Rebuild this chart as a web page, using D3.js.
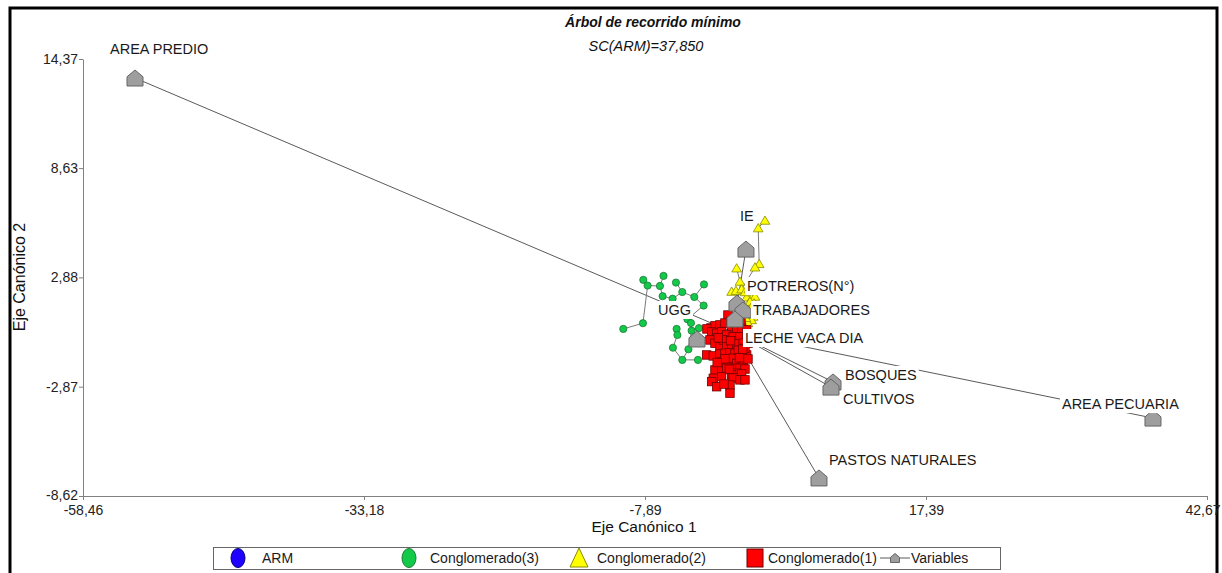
<!DOCTYPE html>
<html>
<head>
<meta charset="utf-8">
<script src="https://cdn.jsdelivr.net/npm/d3@7"></script>
<style>
  html, body { margin: 0; padding: 0; background: #fff; }
  svg { display: block; font-family: "Liberation Sans", Arial, sans-serif; }
</style>
</head>
<body>
<svg id="chart" width="1222" height="573"></svg>
<script>
// ---- axis ticks ----
const xTicks = [-58.46, -33.18, -7.89, 17.39, 42.67];
const xTickLabels = ["-58,46", "-33,18", "-7,89", "17,39", "42,67"];
const yTicks = [-8.62, -2.87, 2.88, 8.63, 14.37];
const yTickLabels = ["-8,62", "-2,87", "2,88", "8,63", "14,37"];

// ---- variables (canonical coordinates) ----
const variableNames = ["AREA PREDIO", "IE", "POTREROS(N°)", "TRABAJADORES", "LECHE VACA DIA",
                       "UGG", "BOSQUES", "CULTIVOS", "AREA PECUARIA", "PASTOS NATURALES"];
const variableX = [-53.78, 1.19, 0.38, 0.92, 0.20, -3.22, 9.02, 8.84, 37.81, 7.76];
const variableY = [13.37, 4.37, 1.53, 1.17, 0.69, -0.36, -2.62, -2.89, -4.52, -7.67];

// ---- observations by cluster (Eje 1, Eje 2) ----
const cluster3 = [
  [-8.05, 2.75], [-7.66, 2.45], [-6.23, 2.96], [-6.55, 2.43], [-5.11, 2.61],
  [-6.31, 1.89], [-5.41, 1.76], [-4.54, 2.11], [-3.46, 1.85], [-2.59, 2.51],
  [-2.62, 1.40], [-8.08, 0.47], [-9.85, 0.17], [-4.08, 0.68], [-3.76, 0.48],
  [-5.05, 0.17], [-4.98, -0.15], [-3.70, 0.08], [-5.38, -0.82], [-3.99, -0.90],
  [-4.54, -1.46], [-3.13, -1.46], [-3.04, 0.21]
];
const cluster2 = [
  [2.90, 5.87], [2.29, 5.47], [2.38, 3.59], [2.00, 3.41], [0.35, 3.36],
  [0.65, 2.66], [-0.10, 2.13], [0.29, 2.18], [0.80, 2.26], [1.25, 1.84],
  [1.70, 1.78], [2.00, 1.87], [1.55, 1.60], [1.91, 1.52], [1.70, 1.34],
  [2.00, 1.34], [1.70, 0.99], [1.84, 0.82], [1.70, 0.64], [1.37, 0.48],
  [1.10, 2.11], [1.37, 1.17], [1.19, 0.75], [2.09, 1.06], [1.46, 2.27]
];
const cluster1 = [
  [-0.43, 0.90], [-1.96, 0.22], [-1.60, 0.33], [-1.15, 0.38], [-0.70, 0.48], [-0.16, 0.54],
  [0.29, 0.64], [0.74, 0.48], [-0.10, 0.29], [0.35, 0.21], [0.80, 0.21], [1.25, 0.12],
  [-2.32, 0.17], [-1.90, 0.01], [-1.45, -0.06], [-1.00, 0.03], [-0.55, -0.15], [0.04, -0.24],
  [0.65, -0.24], [1.25, -0.25], [-2.05, -0.41], [-1.60, -0.58], [-1.15, -0.76], [-0.85, -0.41],
  [-0.55, -0.76], [-0.10, -0.85], [0.35, -0.62], [0.94, -0.58], [1.39, -0.58], [-2.35, -1.20],
  [-1.75, -1.25], [-1.15, -1.15], [-0.70, -1.11], [-0.25, -1.08], [0.20, -1.11], [0.80, -1.08],
  [1.25, -1.20], [1.10, -0.85], [-1.00, -1.55], [-0.40, -1.64], [0.04, -1.37], [0.35, -1.64],
  [0.94, -1.67], [1.37, -1.41], [-1.60, -1.99], [-1.00, -1.99], [-0.55, -1.90], [0.20, -1.90],
  [0.65, -1.90], [1.10, -1.94], [0.35, -2.16], [0.80, -2.20], [-1.75, -2.43], [-1.00, -2.34],
  [-0.10, -2.25], [0.04, -2.41], [0.65, -2.51], [1.10, -2.51], [-1.90, -2.60], [-1.45, -2.87],
  [-0.25, -2.78], [-0.79, -2.73], [-0.25, -3.21], [-1.30, -0.30], [-0.20, -0.45], [0.50, -0.95],
  [-0.70, -1.40], [0.60, -1.35], [-1.40, -1.60], [-0.30, -1.95], [0.90, -0.90]
];

// known branches of the spanning tree (index pairs inside each cluster)
const treeEdges3 = [[0,1],[1,3],[2,3],[3,5],[5,6],[6,7],[4,7],[7,8],[8,9],[8,10],[1,11],[11,12],
                    [13,14],[15,16],[16,18],[18,20],[20,21],[17,19],[19,20],[14,17],[17,22]];
const treeEdges2 = [[0,1],[1,2],[2,3],[3,8],[4,5]];

// ---- layout ----
const W = 1222, H = 573;
const svg = d3.select("#chart");
svg.append("rect").attr("width", W).attr("height", H).attr("fill", "#fff");

const x = d3.scaleLinear().domain([xTicks[0], xTicks[xTicks.length - 1]]).range([83, 1207]);
const y = d3.scaleLinear().domain([yTicks[0], yTicks[yTicks.length - 1]]).range([496, 59]);

// outer frame
svg.append("rect").attr("x", 10).attr("y", 8).attr("width", 1207).attr("height", 575)
  .attr("fill", "none").attr("stroke", "#000").attr("stroke-width", 3);

// axes
const axisColor = "#808080";
const gx = svg.append("g").attr("transform", `translate(0,${y.range()[0]})`)
  .call(d3.axisBottom(x).tickValues(xTicks).tickSize(4).tickSizeOuter(0)
    .tickFormat((d, i) => xTickLabels[i]));
const gy = svg.append("g").attr("transform", `translate(${x.range()[0]},0)`)
  .call(d3.axisLeft(y).tickValues(yTicks).tickSize(4).tickSizeOuter(0)
    .tickFormat((d, i) => yTickLabels[i]));
[gx, gy].forEach(g => {
  g.select(".domain").attr("stroke", axisColor);
  g.selectAll(".tick line").attr("stroke", axisColor);
  g.selectAll(".tick text").attr("fill", "#222").style("font-size", "14px")
    .style("font-family", "'Liberation Sans', Arial, sans-serif");
});
gx.selectAll(".tick text").attr("dy", "0.9em").attr("y", 6);
// the last label sits against the right frame: keep it inside the page
gx.selectAll(".tick text").filter((d, i) => i === xTicks.length - 1)
  .attr("text-anchor", "end").attr("x", 13);
gy.selectAll(".tick text").attr("x", -5);
gy.selectAll(".tick text").filter((d, i) => i === 0).attr("dy", "0.25em");

// titles
svg.append("text").attr("x", 653).attr("y", 27).attr("text-anchor", "middle")
  .style("font-size", "14px").style("font-weight", "bold").style("font-style", "italic")
  .attr("fill", "#111").text("Árbol de recorrido mínimo");
svg.append("text").attr("x", 646).attr("y", 51).attr("text-anchor", "middle")
  .style("font-size", "14.5px").style("font-style", "italic")
  .attr("fill", "#111").text("SC(ARM)=37,850");
svg.append("text").attr("x", 644).attr("y", 532).attr("text-anchor", "middle")
  .style("font-size", "15.5px").attr("fill", "#111").text("Eje Canónico 1");
svg.append("text").attr("transform", "translate(25,277) rotate(-90)").attr("text-anchor", "middle")
  .style("font-size", "16px").attr("fill", "#111").text("Eje Canónico 2");

// ---- observations and spanning tree ----
const pts = [];
cluster3.forEach(p => pts.push({ v: p, g: 3 }));
cluster2.forEach(p => pts.push({ v: p, g: 2 }));
cluster1.forEach(p => pts.push({ v: p, g: 1 }));
pts.forEach(p => { p.px = x(p.v[0]); p.py = y(p.v[1]); });

const off2 = cluster3.length;
const parent = pts.map((_, i) => i);
const find = i => (parent[i] === i ? i : (parent[i] = find(parent[i])));
const tree = [];
function link(a, b) {
  const ra = find(a), rb = find(b);
  if (ra === rb) return;
  parent[ra] = rb;
  tree.push([a, b]);
}
treeEdges3.forEach(([a, b]) => link(a, b));
treeEdges2.forEach(([a, b]) => link(a + off2, b + off2));
const cand = [];
for (let i = 0; i < pts.length; i++)
  for (let j = i + 1; j < pts.length; j++)
    cand.push([i, j, Math.hypot(pts[i].px - pts[j].px, pts[i].py - pts[j].py)]);
cand.sort((a, b) => a[2] - b[2]);
cand.forEach(([a, b]) => link(a, b));

// variable vectors from the origin
const vars = variableNames.map((n, i) => ({ name: n, vx: variableX[i], vy: variableY[i] }));
svg.append("g").selectAll("line").data(vars).join("line")
  .attr("x1", x(0)).attr("y1", y(0))
  .attr("x2", d => x(d.vx)).attr("y2", d => y(d.vy))
  .attr("stroke", "#5a5a5a").attr("stroke-width", 1);

svg.append("g").selectAll("line").data(tree).join("line")
  .attr("x1", d => pts[d[0]].px).attr("y1", d => pts[d[0]].py)
  .attr("x2", d => pts[d[1]].px).attr("y2", d => pts[d[1]].py)
  .attr("stroke", "#7a7a7a").attr("stroke-width", 1);

const tri = s => `M0,${-s}L${s * 1.05},${s * 0.8}L${-s * 1.05},${s * 0.8}Z`;
const house = (w, h) => `M0,${-h}L${w},${-h * 0.15}L${w},${h}L${-w},${h}L${-w},${-h * 0.15}Z`;

svg.append("g").selectAll("circle").data(pts.filter(p => p.g === 3)).join("circle")
  .attr("cx", d => d.px).attr("cy", d => d.py).attr("r", 3.6)
  .attr("fill", "#12c94a").attr("stroke", "#1e7a35").attr("stroke-width", 0.8);
svg.append("g").selectAll("path").data(pts.filter(p => p.g === 2)).join("path")
  .attr("transform", d => `translate(${d.px},${d.py})`).attr("d", tri(4.6))
  .attr("fill", "#ffff00").attr("stroke", "#8a8a00").attr("stroke-width", 0.8);
svg.append("g").selectAll("rect").data(pts.filter(p => p.g === 1)).join("rect")
  .attr("x", d => d.px - 4.25).attr("y", d => d.py - 4.25).attr("width", 8.5).attr("height", 8.5)
  .attr("fill", "#ff0000").attr("stroke", "#6e0000").attr("stroke-width", 0.8);

// variable markers
svg.append("g").selectAll("path").data(vars).join("path")
  .attr("transform", d => `translate(${x(d.vx)},${y(d.vy)})`).attr("d", house(8, 8))
  .attr("fill", "#9e9e9e").attr("stroke", "#666").attr("stroke-width", 1);

// variable labels (pixel offsets from each marker), on a white backing
const labelOffset = {
  "AREA PREDIO": [-25, -24], "IE": [-6, -28], "POTREROS(N°)": [10, -12],
  "TRABAJADORES": [10, 5], "LECHE VACA DIA": [10, 24], "UGG": [-39, -24],
  "BOSQUES": [12, -2], "CULTIVOS": [12, 17], "AREA PECUARIA": [-91, -9],
  "PASTOS NATURALES": [10, -13]
};
const lg = svg.append("g");
vars.forEach(d => {
  const [dx, dy] = labelOffset[d.name];
  const g = lg.append("g");
  const t = g.append("text").attr("x", x(d.vx) + dx).attr("y", y(d.vy) + dy)
    .style("font-size", "14.5px").attr("fill", "#1a1a1a").text(d.name);
  const bb = t.node().getBBox();
  g.insert("rect", "text").attr("x", bb.x - 2).attr("y", bb.y - 1)
    .attr("width", bb.width + 4).attr("height", bb.height + 2).attr("fill", "#fff");
});

// ---- legend ----
const legY = 558;
svg.append("rect").attr("x", 213.5).attr("y", 547.5).attr("width", 787).attr("height", 22)
  .attr("fill", "#fff").attr("stroke", "#666").attr("stroke-width", 1);
const leg = svg.append("g").style("font-size", "14px").attr("fill", "#1a1a1a");
leg.append("ellipse").attr("cx", 238).attr("cy", legY).attr("rx", 7).attr("ry", 9.5)
  .attr("fill", "#2000ff").attr("stroke", "#000070");
leg.append("text").attr("x", 262).attr("y", legY + 5).text("ARM");
leg.append("ellipse").attr("cx", 409).attr("cy", legY).attr("rx", 7).attr("ry", 9.5)
  .attr("fill", "#12c94a").attr("stroke", "#1e7a35");
leg.append("text").attr("x", 430).attr("y", legY + 5).text("Conglomerado(3)");
leg.append("path").attr("d", `M579,${legY - 10}L588,${legY + 9}L570,${legY + 9}Z`)
  .attr("fill", "#ffff00").attr("stroke", "#8a8a00");
leg.append("text").attr("x", 597).attr("y", legY + 5).text("Conglomerado(2)");
leg.append("rect").attr("x", 747).attr("y", legY - 9).attr("width", 16).attr("height", 18)
  .attr("fill", "#ff0000").attr("stroke", "#6e0000");
leg.append("text").attr("x", 768).attr("y", legY + 5).text("Conglomerado(1)");
leg.append("line").attr("x1", 880).attr("x2", 910).attr("y1", legY).attr("y2", legY)
  .attr("stroke", "#5a5a5a");
leg.append("path").attr("transform", `translate(895,${legY})`).attr("d", house(4.5, 4.5))
  .attr("fill", "#9e9e9e").attr("stroke", "#666");
leg.append("text").attr("x", 911).attr("y", legY + 5).text("Variables");
</script>
</body>
</html>
